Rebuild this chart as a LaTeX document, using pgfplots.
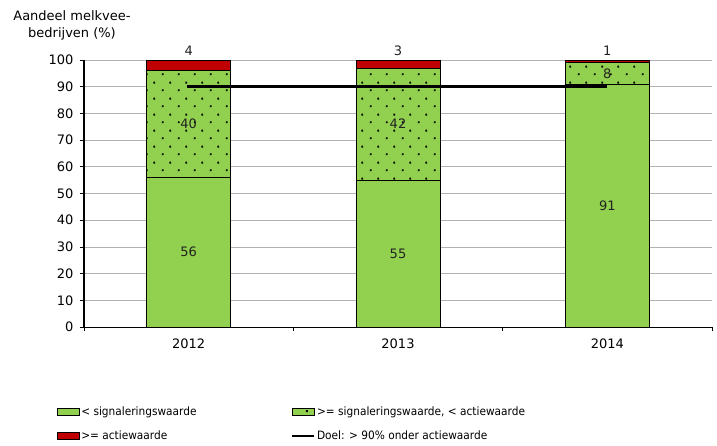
\documentclass[border=0pt]{standalone}
\usepackage{fontspec}
\setmainfont{DejaVu Sans}
\newfontfamily\legfont[FakeStretch=0.92]{DejaVu Sans}
\usepackage{pgfplots}
\pgfplotsset{compat=1.18}
\usetikzlibrary{patterns.meta}
\definecolor{mygreen}{HTML}{92D050}
\definecolor{myred}{HTML}{C00000}
\definecolor{lbl}{HTML}{222222}
\tikzdeclarepattern{
  name=sparsedots,
  type=uncolored,
  bottom left={(0pt,0pt)},
  top right={(16pt,16pt)},
  tile size={(16pt,16pt)},
  code={
    \pgfpathrectangle{\pgfqpoint{2pt}{2pt}}{\pgfqpoint{1.9pt}{1.9pt}}
    \pgfpathrectangle{\pgfqpoint{10pt}{10pt}}{\pgfqpoint{1.9pt}{1.9pt}}
    \pgfusepath{fill}
  }
}
\pgfplotsset{
  barleg/.style={legend image code/.code={\draw[##1] (0pt,-3.5pt) rectangle (22pt,3.5pt);}},
  lineleg/.style={legend image code/.code={\draw[##1] (0pt,0pt) -- (22pt,0pt);}},
}
\newcommand\lblfont{\fontsize{13}{15}\selectfont}
\begin{document}
\begin{tikzpicture}
\begin{axis}[
  scale only axis, width=628pt, height=267pt,
  ybar stacked, bar width=0.4,
  xmin=-0.5, xmax=2.5, ymin=0, ymax=100,
  axis x line*=bottom, axis y line*=left,
  axis line style={-},
  x axis line style={black, line width=1pt},
  y axis line style={black, line width=1.6pt},
  clip=false,
  ytick={0,10,...,100},
  ymajorgrids, grid style={gray!60, line width=0.8pt},
  tick align=outside, major tick length=4pt,
  tick style={black, line width=0.8pt},
  xtick={-0.5,0.5,1.5,2.5}, xticklabels={},
  extra x ticks={0,1,2}, extra x tick labels={2012,2013,2014},
  /pgf/number format/assume math mode=true,
  tick label style={font=\lblfont},
  y tick label style={xshift=-3pt},
  extra x tick style={major tick length=0pt, grid=none, tick label style={yshift=-8pt}},
  legend columns=2, legend cell align=left,
  legend style={draw=none, fill=none, at={(rel axis cs:0,0)}, anchor=north west,
    xshift=-27pt, yshift=-78pt, inner sep=0pt, row sep=11pt,
    font=\legfont\fontsize{11.5}{13}\selectfont,
    nodes={inner sep=1.5pt},
    /tikz/every even column/.append style={column sep=93pt}},
]
\addplot[fill=mygreen, draw=black, line width=0.6pt, barleg]
  coordinates {(0,56) (1,55) (2,91)};
\addlegendentry{< signaleringswaarde}
\addplot[fill=mygreen, draw=black, line width=0.6pt, postaction={pattern=sparsedots}, barleg]
  coordinates {(0,40) (1,42) (2,8)};
\addlegendentry{>= signaleringswaarde, < actiewaarde}
\addplot[fill=myred, draw=black, line width=0.6pt, barleg]
  coordinates {(0,4) (1,3) (2,1)};
\addlegendentry{>= actiewaarde}
\addlegendimage{black, line width=2.5pt, lineleg}
\addlegendentry{Doel: > 90\% onder actiewaarde}
\node[font=\fontsize{13}{17}\selectfont, align=center, anchor=south, xshift=-12pt, yshift=16pt]
  at (rel axis cs:0,1) {Aandeel melkvee-\\bedrijven (\%)};
\end{axis}
\begin{axis}[scale only axis, width=628pt, height=267pt,
  xmin=-0.5, xmax=2.5, ymin=0, ymax=100, hide axis, clip=false]
\addplot[black, line width=2.6pt] coordinates {(-0.01,90) (2,90)};
\node[font=\lblfont, text=lbl] at (axis cs:0,28) {56};
\node[font=\lblfont, text=lbl] at (axis cs:1,27.5) {55};
\node[font=\lblfont, text=lbl] at (axis cs:2,45.5) {91};
\node[font=\lblfont, text=lbl] at (axis cs:0,76) {40};
\node[font=\lblfont, text=lbl] at (axis cs:1,76) {42};
\node[font=\lblfont, text=lbl] at (axis cs:2,95) {8};
\node[font=\lblfont, text=lbl, anchor=south, yshift=1pt] at (axis cs:0,100) {4};
\node[font=\lblfont, text=lbl, anchor=south, yshift=1pt] at (axis cs:1,100) {3};
\node[font=\lblfont, text=lbl, anchor=south, yshift=1pt] at (axis cs:2,100) {1};
\end{axis}
\pgfresetboundingbox
\useasboundingbox (-84pt,-118pt) rectangle (633pt,327pt);
\end{tikzpicture}
\end{document}
